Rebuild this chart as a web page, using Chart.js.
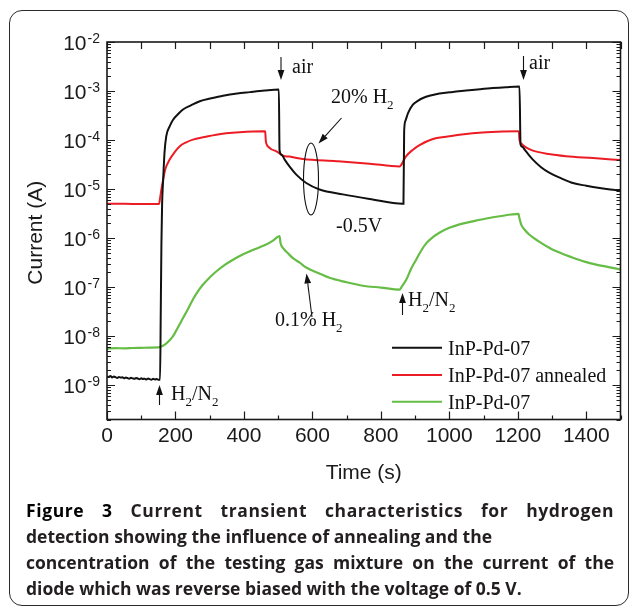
<!DOCTYPE html>
<html><head><meta charset="utf-8">
<script src="https://cdn.jsdelivr.net/npm/chart.js@4/dist/chart.umd.min.js"></script>
<style>
html,body{margin:0;padding:0;background:#fff;}
#wrap{position:relative;width:629px;height:606px;overflow:hidden;background:#fff;}
#box{position:absolute;left:9px;top:10px;width:620px;height:596px;border:1.6px solid #2b2b2b;border-radius:13px;box-sizing:border-box;}
#c{position:absolute;left:0;top:0;}
#cap{position:absolute;left:26px;top:497px;width:588px;font-family:"Open Sans",sans-serif;font-size:17.5px;line-height:26px;color:#231f20;font-weight:700;}
#cap div{white-space:nowrap;}
#cap .j{white-space:normal;text-align:justify;text-align-last:justify;}
#cap .l1{letter-spacing:0.6px;}
#cap b{font-weight:700;color:#000;}
</style>
</head><body>
<div id="wrap">
<div id="box"></div>
<canvas id="c" width="629" height="606"></canvas>
<div id="cap">
<div class="j l1"><b>Figure 3</b> Current transient characteristics for hydrogen</div>
<div>detection showing the influence of annealing and the</div>
<div class="j">concentration of the testing gas mixture on the current of the</div>
<div>diode which was reverse biased with the voltage of 0.5 V.</div>
</div>
</div>
<script>
// ---- data (time in s, current in A) ----
const seriesLabels = ["InP-Pd-07", "InP-Pd-07 annealed", "InP-Pd-07"];
const seriesColors = ["#111111", "#ec1c24", "#66bd45"];

const blackTime = [0,5,10,15,20,25,30,35,40,45,50,55,60,65,70,75,80,85,90,95,100,105,110,115,120,125,130,135,140,145,150,
  155,157,159,161,164,168,173,183,193,208,222,245,271,305,339,380,417,460,502,504,
  510,519,533,553,582,621,689,767,864,866,868,872,879,893,908,923,945,971,1010,1049,
  1090,1127,1165,1205,1208,1214,1220,1232,1244,1268,1293,1327,1361,1400,1439,1470,1500];
const blackCurrent = [1.52e-9,1.47e-9,1.55e-9,1.44e-9,1.50e-9,1.46e-9,1.41e-9,1.48e-9,1.43e-9,1.45e-9,1.39e-9,1.44e-9,1.40e-9,1.36e-9,1.42e-9,1.38e-9,1.35e-9,1.41e-9,1.37e-9,1.33e-9,1.39e-9,1.34e-9,1.36e-9,1.31e-9,1.37e-9,1.33e-9,1.30e-9,1.35e-9,1.31e-9,1.34e-9,1.30e-9,
  1.3e-9,3e-8,8e-7,5e-6,1.55e-5,5.5e-5,1.19e-4,1.9e-4,2.6e-4,3.4e-4,4.2e-4,5.1e-4,6.2e-4,7.1e-4,8.0e-4,8.9e-4,9.5e-4,1.02e-3,1.07e-3,6.2e-5,
  5.0e-5,4.0e-5,2.9e-5,1.97e-5,1.33e-5,9.8e-6,7.8e-6,6.3e-6,5.0e-6,5.0e-6,1.5e-4,2.5e-4,3.5e-4,5.2e-4,6.3e-4,7.2e-4,8.1e-4,8.9e-4,9.6e-4,1.02e-3,
  1.09e-3,1.15e-3,1.2e-3,1.24e-3,8.1e-5,7.2e-5,6.4e-5,5.0e-5,4.0e-5,2.8e-5,2.14e-5,1.66e-5,1.33e-5,1.17e-5,1.05e-5,9.8e-6,9.3e-6];

const redTime = [0,50,100,152,155,159,164,170,183,197,212,230,251,285,319,387,460,462,464,467,472,480,495,514,533,572,670,767,855,858,866,874,893,913,952,990,1030,1108,1200,1203,1205,1210,1225,1244,1290,1341,1420,1500];
const redCurrent = [5.0e-6,5.0e-6,4.95e-6,4.95e-6,6.5e-6,1.0e-5,1.55e-5,2.5e-5,4.0e-5,5.6e-5,7.4e-5,8.9e-5,1.02e-4,1.15e-4,1.29e-4,1.44e-4,1.51e-4,1.5e-4,9.5e-5,8.0e-5,7.2e-5,6.5e-5,5.9e-5,4.8e-5,4.6e-5,4.1e-5,3.7e-5,3.3e-5,2.9e-5,3.0e-5,3.8e-5,4.7e-5,6.3e-5,7.9e-5,1.05e-4,1.17e-4,1.29e-4,1.44e-4,1.51e-4,1.5e-4,1.0e-4,8.5e-5,7.0e-5,6.1e-5,5.2e-5,4.7e-5,4.3e-5,3.9e-5];

const greenTime = [0,25,50,75,100,125,150,154,170,183,193,207,222,237,251,265,280,300,319,343,368,392,417,441,465,485,504,507,514,530,545,563,582,620,650,700,747,800,855,860,874,888,903,918,933,952,971,1000,1030,1069,1108,1147,1202,1205,1210,1220,1234,1260,1293,1327,1361,1395,1429,1465,1500];
const greenCurrent = [5.6e-9,5.7e-9,5.65e-9,5.75e-9,5.8e-9,5.85e-9,5.9e-9,6.0e-9,6.8e-9,8.3e-9,1.0e-8,1.51e-8,2.34e-8,3.63e-8,5.62e-8,8.1e-8,1.12e-7,1.58e-7,2.09e-7,2.82e-7,3.63e-7,4.47e-7,5.37e-7,6.31e-7,7.41e-7,8.91e-7,1.1e-6,7.9e-7,6.31e-7,4.79e-7,3.8e-7,3.16e-7,2.51e-7,1.91e-7,1.55e-7,1.26e-7,1.07e-7,9.8e-8,8.9e-8,1.0e-7,1.41e-7,2.34e-7,3.63e-7,5.6e-7,7.9e-7,1.05e-6,1.29e-6,1.62e-6,1.91e-6,2.2e-6,2.51e-6,2.79e-6,3.11e-6,2.51e-6,1.88e-6,1.48e-6,1.17e-6,8.7e-7,6.3e-7,4.9e-7,3.98e-7,3.31e-7,2.88e-7,2.57e-7,2.29e-7];

const xTickLabels = [0,200,400,600,800,1000,1200,1400];
const yTickExponents = [-9,-8,-7,-6,-5,-4,-3,-2];
const xTitle = "Time (s)";
const yTitle = "Current (A)";

// ---- helpers ----
function pts(t, v){ return t.map((x,i)=>({x:x, y:v[i]})); }
const SERIF = '"Liberation Serif","Times New Roman",serif';
const SANS = '"Liberation Sans",Arial,sans-serif';

function drawRich(ctx, parts, x, y, size){
  let cx = x;
  for(const [txt, sub] of parts){
    ctx.font = (sub ? Math.round(size*0.65) : size) + 'px ' + SERIF;
    ctx.fillText(txt, cx, sub ? y + 6 : y);
    cx += ctx.measureText(txt).width;
  }
}
function arrow(ctx, x1, y1, x2, y2){
  const ang = Math.atan2(y2-y1, x2-x1), L = 10, W = 3.4;
  const bx = x2 - L*Math.cos(ang), by = y2 - L*Math.sin(ang);
  ctx.beginPath(); ctx.moveTo(x1,y1); ctx.lineTo(bx,by); ctx.stroke();
  ctx.beginPath();
  ctx.moveTo(x2,y2);
  ctx.lineTo(bx + W*Math.sin(ang), by - W*Math.cos(ang));
  ctx.lineTo(bx - W*Math.sin(ang), by + W*Math.cos(ang));
  ctx.closePath(); ctx.fill();
}

const overlay = {
  id: 'overlay',
  afterDatasetsDraw(chart){
    const ctx = chart.ctx, a = chart.chartArea, xs = chart.scales.x, ys = chart.scales.y;
    ctx.save();
    ctx.strokeStyle = '#1a1a1a'; ctx.fillStyle = '#1a1a1a';
    ctx.lineWidth = 1.2;
    ctx.beginPath();
    for(let t = xs.min; t <= xs.max; t += 100){
      const px = Math.round(xs.getPixelForValue(t)) + 0.5;
      const L = (t % 200 === 0) ? 8 : 4;
      ctx.moveTo(px, a.bottom); ctx.lineTo(px, a.bottom - L);
      ctx.moveTo(px, a.top); ctx.lineTo(px, a.top + 7);
    }
    for(let k = -10; k <= -2; k++){
      for(let m = 1; m <= 9; m++){
        const v = m * Math.pow(10, k);
        if(v < ys.min*0.999 || v > ys.max*1.001) continue;
        const py = Math.round(ys.getPixelForValue(v)) + 0.5;
        const L = (m === 1) ? 8 : 4;
        ctx.moveTo(a.left, py); ctx.lineTo(a.left + L, py);
        ctx.moveTo(a.right, py); ctx.lineTo(a.right - L, py);
      }
    }
    ctx.stroke();
    ctx.lineWidth = 1.6;
    ctx.strokeRect(a.left, a.top, a.right - a.left, a.bottom - a.top);

    // tick labels
    ctx.fillStyle = '#1a1a1a';
    ctx.font = '21px ' + SANS;
    ctx.textAlign = 'center'; ctx.textBaseline = 'alphabetic';
    for(const t of xTickLabels){
      ctx.fillText(String(t), xs.getPixelForValue(t), a.bottom + 22);
    }
    for(const e of yTickExponents){
      const py = ys.getPixelForValue(Math.pow(10, e));
      const ex = String(e);
      ctx.font = '14px ' + SANS;
      const we = ctx.measureText(ex).width;
      ctx.textAlign = 'left';
      ctx.fillText(ex, a.left - 7 - we, py + 1);
      ctx.font = '21px ' + SANS;
      ctx.textAlign = 'right';
      ctx.fillText('10', a.left - 7 - we - 1, py + 8);
    }
    // axis titles
    ctx.textAlign = 'center';
    ctx.font = '21px ' + SANS;
    ctx.fillText(xTitle, (a.left + a.right)/2, 479);
    ctx.save();
    ctx.translate(42, (a.top + a.bottom)/2 + 2);
    ctx.rotate(-Math.PI/2);
    ctx.fillText(yTitle, 0, 0);
    ctx.restore();

    // annotations
    ctx.textAlign = 'left';
    ctx.fillStyle = '#111'; ctx.strokeStyle = '#111';
    ctx.lineWidth = 1.1;
    const S = 20;
    arrow(ctx, 281, 57, 281, 80);
    drawRich(ctx, [['air',0]], 292, 73, S);
    arrow(ctx, 523.5, 56, 523.5, 80);
    drawRich(ctx, [['air',0]], 529, 69, S);
    drawRich(ctx, [['20% H',0],['2',1]], 331, 103, S);
    arrow(ctx, 341.5, 118, 318.5, 143.5);
    ctx.beginPath(); ctx.ellipse(311, 179, 7.5, 36, 0, 0, Math.PI*2); ctx.stroke();
    drawRich(ctx, [['-0.5V',0]], 336, 232, S);
    drawRich(ctx, [['0.1% H',0],['2',1]], 275, 326, S);
    arrow(ctx, 312, 317, 306.5, 273.5);
    arrow(ctx, 159.5, 405, 159.5, 385);
    drawRich(ctx, [['H',0],['2',1],['/N',0],['2',1]], 171, 400, S);
    arrow(ctx, 402.5, 315, 402.5, 293);
    drawRich(ctx, [['H',0],['2',1],['/N',0],['2',1]], 408, 306, S);

    // legend
    const ds = chart.data.datasets;
    const rows = [347.7, 375, 401.7];
    ds.forEach((d, i) => {
      ctx.strokeStyle = d.borderColor; ctx.lineWidth = 2;
      ctx.beginPath(); ctx.moveTo(392, rows[i]); ctx.lineTo(442, rows[i]); ctx.stroke();
      ctx.fillStyle = '#111';
      ctx.font = S + 'px ' + SERIF;
      ctx.textBaseline = 'alphabetic';
      ctx.fillText(d.label, 448, rows[i] + 7);
    });
    ctx.restore();
  }
};

new Chart(document.getElementById('c'), {
  type: 'line',
  data: {
    datasets: [
      {label: seriesLabels[0], data: pts(blackTime, blackCurrent), borderColor: seriesColors[0], borderWidth: 2},
      {label: seriesLabels[1], data: pts(redTime, redCurrent), borderColor: seriesColors[1], borderWidth: 2},
      {label: seriesLabels[2], data: pts(greenTime, greenCurrent), borderColor: seriesColors[2], borderWidth: 2.2}
    ]
  },
  options: {
    responsive: false, animation: false, devicePixelRatio: 1,
    layout: {padding: {left: 107, top: 42, right: 8.5, bottom: 186.5}},
    elements: {point: {radius: 0}, line: {cubicInterpolationMode: 'monotone', fill: false}},
    plugins: {legend: {display: false}, tooltip: {enabled: false}},
    scales: {
      x: {type: 'linear', min: 0, max: 1500, display: false},
      y: {type: 'logarithmic', min: 2e-10, max: 1e-2, display: false}
    }
  },
  plugins: [overlay]
});
</script>
</body></html>
